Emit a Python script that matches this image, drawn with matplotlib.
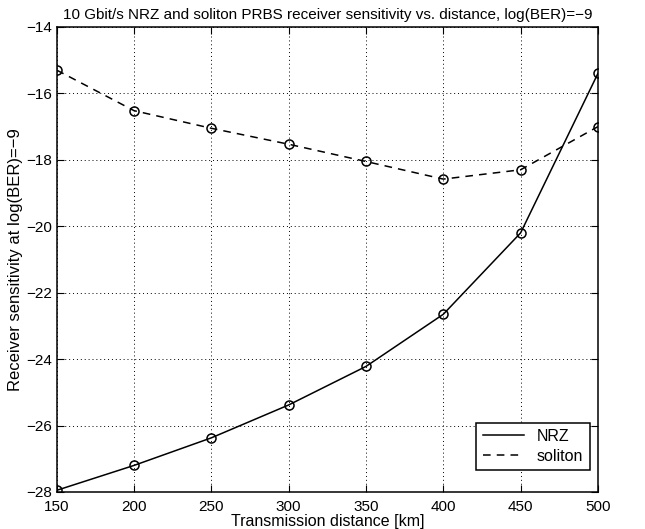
import matplotlib
matplotlib.use('Agg')
import matplotlib.pyplot as plt

# transmission distance [km]
distance = [150, 200, 250, 300, 350, 400, 450, 500]

# receiver sensitivity at log(BER)=-9
nrz = [-27.95, -27.2, -26.37, -25.38, -24.22, -22.65, -20.2, -15.4]
soliton = [-15.3, -16.52, -17.05, -17.53, -18.05, -18.58, -18.3, -17.0]

xticks = [150, 200, 250, 300, 350, 400, 450, 500]
yticks = [-28, -26, -24, -22, -20, -18, -16, -14]

plt.rcParams['font.family'] = ['Liberation Sans', 'DejaVu Sans']

fig = plt.figure(figsize=(6.45, 5.29), dpi=100)
ax = fig.add_axes([0.088, 0.07, 0.839, 0.879])

# lines through the points
l1, = ax.plot(distance, nrz, '-', color='black', linewidth=1.1, label='NRZ')
l2, = ax.plot(distance, soliton, '--', color='black', linewidth=1.1,
              dashes=(5, 4), label='soliton')
# circle markers on the measured points
ax.plot(distance, nrz, 'o', color='black', markerfacecolor='none',
        markersize=6.5, markeredgewidth=1.1)
ax.plot(distance, soliton, 'o', color='black', markerfacecolor='none',
        markersize=6.5, markeredgewidth=1.1)

ax.set_xlim(150, 500)
ax.set_ylim(-28, -14)
ax.set_xticks(xticks)
ax.set_yticks(yticks)
ax.set_yticklabels([str(t).replace('-', '\u2212') for t in yticks])
ax.tick_params(direction='in', top=True, right=True, length=5,
               labelsize=11, colors='black')
ax.tick_params(axis='x', pad=6)
ax.tick_params(axis='y', pad=3)
ax.grid(True, linestyle=(0, (1, 3)), color='black', linewidth=0.7)
for s in ax.spines.values():
    s.set_linewidth(1.1)

ax.set_title('10 Gbit/s NRZ and soliton PRBS receiver sensitivity vs. distance, log(BER)=\u22129',
             fontsize=11, pad=6)
ax.set_xlabel('Transmission distance [km]', fontsize=11.5, labelpad=0)
ax.set_ylabel('Receiver sensitivity at log(BER)=\u22129', fontsize=12, labelpad=3)

leg = ax.legend(handles=[l1, l2], loc='lower right', fontsize=11.5,
                bbox_to_anchor=(0.985, 0.047), borderaxespad=0,
                fancybox=False, edgecolor='black', framealpha=1,
                handlelength=2.6, labelspacing=0.3)
leg.get_frame().set_linewidth(1.1)

fig.savefig('out.png', dpi=100)
